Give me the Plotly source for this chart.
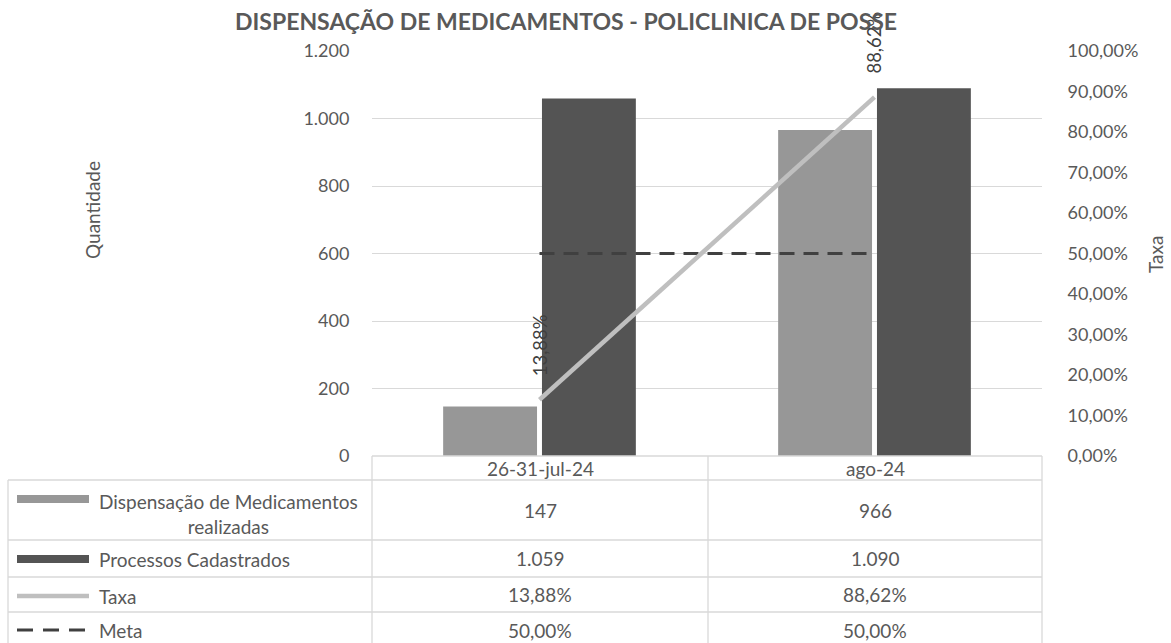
import plotly.graph_objects as go

categories = ["26-31-jul-24", "ago-24"]
dispensacao = [147, 966]
processos = [1059, 1090]
taxa = [0.1388, 0.8862]
meta = [0.50, 0.50]

left_ticks = [0, 200, 400, 600, 800, 1000, 1200]
left_labels = ["0", "200", "400", "600", "800", "1.000", "1.200"]
right_ticks = [i / 10 for i in range(11)]
right_labels = ["0,00%", "10,00%", "20,00%", "30,00%", "40,00%", "50,00%",
                "60,00%", "70,00%", "80,00%", "90,00%", "100,00%"]

title = "DISPENSAÇÃO DE MEDICAMENTOS - POLICLINICA DE POSSE"
series_names = ["Dispensação de Medicamentos<br>realizadas", "Processos Cadastrados", "Taxa", "Meta"]

FONT = "Lato"
TXT = "#595959"
GRID = "#D9D9D9"
C_LIGHT = "#979797"
C_DARK = "#545454"
C_TAXA = "#BFBFBF"
C_META = "#404040"
FS = 19


def fmt_int(v):
    return f"{v:,}".replace(",", ".")


def fmt_pct(v):
    return f"{v*100:.2f}%".replace(".", ",")


fig = go.Figure()
fig.add_trace(go.Bar(x=categories, y=dispensacao, name=series_names[0],
                     marker=dict(color=C_LIGHT, line=dict(width=0))))
fig.add_trace(go.Bar(x=categories, y=processos, name=series_names[1],
                     marker=dict(color=C_DARK, line=dict(width=0))))
fig.add_trace(go.Scatter(x=categories, y=meta, name=series_names[3], yaxis="y2",
                         mode="lines", line=dict(color=C_META, width=3, dash="15px,9px")))
fig.add_trace(go.Scatter(x=categories, y=taxa, name=series_names[2], yaxis="y2",
                         mode="lines", line=dict(color=C_TAXA, width=4.5)))

# plot geometry (pixels) for converting table layout to paper coords
L, R, T, B = 372, 1042, 51, 456
W, H = R - L, B - T


def px(xp):
    return (xp - L) / W


def py(yp):
    return (B - yp) / H


shapes = []
annotations = []


def note(x, y, text, size=FS, xanchor="center", yanchor="middle", angle=0, **kw):
    annotations.append(dict(x=x, y=y, text=text, showarrow=False, xanchor=xanchor,
                            yanchor=yanchor, textangle=angle,
                            font=dict(family=FONT, size=size, color=kw.pop("color", TXT)),
                            **kw))


# data labels for Taxa (rotated)
for c, v in zip(categories, taxa):
    note(c, v, fmt_pct(v), size=18.5, angle=-90, xref="x", yref="y2", yshift=54,
         color="#404040")

# table geometry
rows = [456, 480, 540, 577, 612, 648]
cols = [8, 372, 708, 1042]
line = dict(color=GRID, width=1.3)
shapes.append(dict(type="line", xref="paper", yref="paper", x0=px(cols[1]), x1=px(cols[3]),
                   y0=py(rows[0]), y1=py(rows[0]), line=line))
for r in rows[1:]:
    shapes.append(dict(type="line", xref="paper", yref="paper", x0=px(cols[0]), x1=px(cols[3]),
                       y0=py(r), y1=py(r), line=line))
shapes.append(dict(type="line", xref="paper", yref="paper", x0=px(cols[0]), x1=px(cols[0]),
                   y0=py(rows[1]), y1=py(rows[-1]), line=line))
for cx in cols[1:]:
    shapes.append(dict(type="line", xref="paper", yref="paper", x0=px(cx), x1=px(cx),
                       y0=py(rows[0]), y1=py(rows[-1]), line=line))

# header categories
for i, c in enumerate(categories):
    note(px((cols[i + 1] + cols[i + 2]) / 2), py((rows[0] + rows[1]) / 2), c,
         xref="paper", yref="paper")

table_values = [
    [fmt_int(v) for v in dispensacao],
    [fmt_int(v) for v in processos],
    [fmt_pct(v) for v in taxa],
    [fmt_pct(v) for v in meta],
]
for ri, vals in enumerate(table_values):
    yc = py((rows[ri + 1] + rows[ri + 2]) / 2)
    for ci, t in enumerate(vals):
        note(px((cols[ci + 1] + cols[ci + 2]) / 2), yc, t, xref="paper", yref="paper")

# legend keys in first column
kx0, kx1 = px(17), px(89)
yk = [py(499), py(559), py(596), py(630)]
shapes.append(dict(type="rect", xref="paper", yref="paper", x0=kx0, x1=kx1,
                   y0=yk[0] - 4 / H, y1=yk[0] + 4 / H, fillcolor=C_LIGHT, line=dict(width=0)))
shapes.append(dict(type="rect", xref="paper", yref="paper", x0=kx0, x1=kx1,
                   y0=yk[1] - 4 / H, y1=yk[1] + 4 / H, fillcolor=C_DARK, line=dict(width=0)))
shapes.append(dict(type="line", xref="paper", yref="paper", x0=kx0, x1=kx1,
                   y0=yk[2], y1=yk[2], line=dict(color=C_TAXA, width=4.5)))
shapes.append(dict(type="line", xref="paper", yref="paper", x0=kx0, x1=kx1,
                   y0=yk[3], y1=yk[3], line=dict(color=C_META, width=3, dash="16px,10px")))

# legend names
note(px(97), py(488), series_names[0], xanchor="left", yanchor="top", align="center",
     xref="paper", yref="paper")
for name, yy in zip(series_names[1:], [559, 596, 630]):
    note(px(97), py(yy), name, xanchor="left", xref="paper", yref="paper")

# axis titles
note(px(92), py(210), "Quantidade", angle=-90, xref="paper", yref="paper")
note(px(1155), py(255), "Taxa", angle=-90, xref="paper", yref="paper")
# title
note(px(566), py(21), "<b>" + title + "</b>", size=23, xref="paper", yref="paper")

fig.update_layout(
    width=1171, height=643,
    margin=dict(l=L, r=1171 - R, t=T, b=643 - B, pad=0),
    paper_bgcolor="white", plot_bgcolor="white",
    barmode="group", bargap=0.41, bargroupgap=0.05,
    showlegend=False,
    font=dict(family=FONT, color=TXT, size=FS),
    xaxis=dict(showticklabels=False, showgrid=False, zeroline=False, showline=False,
               ticks=""),
    yaxis=dict(range=[0, 1200], tickvals=left_ticks, ticktext=left_labels,
               showgrid=True, gridcolor=GRID, gridwidth=1.3, zeroline=False, showline=False,
               ticks="outside", ticklen=18, tickcolor="rgba(0,0,0,0)",
               tickfont=dict(family=FONT, size=18, color=TXT)),
    yaxis2=dict(range=[0, 1], overlaying="y", side="right", tickvals=right_ticks,
                ticktext=right_labels, showgrid=False, zeroline=False, showline=False,
                ticks="outside", ticklen=21, tickcolor="rgba(0,0,0,0)",
                tickfont=dict(family=FONT, size=18, color=TXT)),
    shapes=shapes, annotations=annotations,
)

fig.write_html("out.html", config={"displayModeBar": False},
               post_script="document.body.style.margin='0';")
